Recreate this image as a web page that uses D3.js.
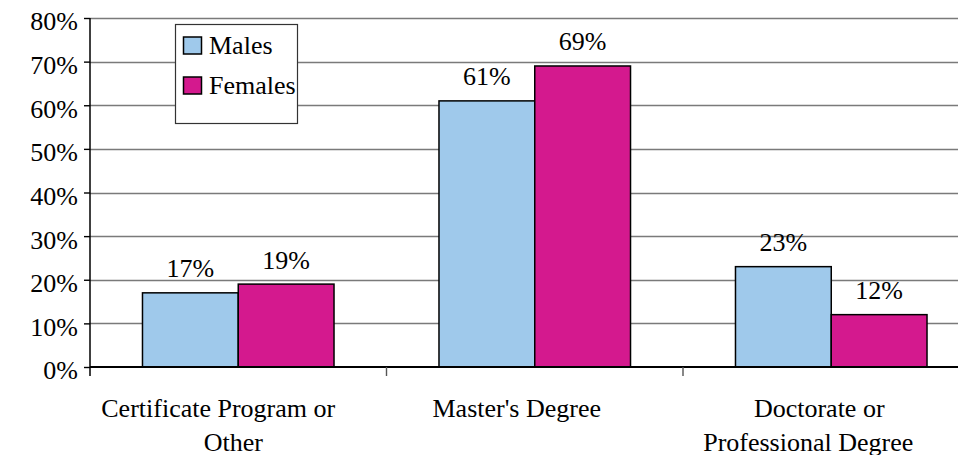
<!DOCTYPE html>
<html>
<head>
<meta charset="utf-8">
<script src="https://cdn.jsdelivr.net/npm/d3@7"></script>
</head>
<body style="margin:0">
<svg id="chart" width="958" height="455"></svg>
<script>
// Share of respondents by highest degree sought, split by gender
const categories = [
  ["Certificate Program or", "Other"],
  ["Master's Degree"],
  ["Doctorate or", "Professional Degree"]
];
const categoryKeys = ["Certificate", "Masters", "Doctorate"];
const series = ["Males", "Females"];
const males = [0.17, 0.61, 0.23];
const females = [0.19, 0.69, 0.12];
const yTicks = [0, 0.1, 0.2, 0.3, 0.4, 0.5, 0.6, 0.7, 0.8];
const colors = { Males: "#9fc9eb", Females: "#d4198e" };
// horizontal nudge of each wrapped category label line
const labelShift = [[-20, -5], [-18], [-12, -23]];

const values = { Males: males, Females: females };
const svg = d3.select("#chart");
const fontSize = "26px";

// every text element gets the serif face directly
function serifText(sel) {
  return sel.style("font-family", '"Times New Roman"')
    .style("font-size", fontSize)
    .attr("fill", "#000");
}

const x = d3.scaleBand().domain(categoryKeys).range([90, 979.5]).paddingInner(0).paddingOuter(0);
const xs = d3.scaleBand().domain(series).range([0, x.bandwidth()]).paddingInner(0).paddingOuter(0.548);
const y = d3.scaleLinear().domain([0, 0.8]).range([367, 18]);

// gridlines
svg.append("g")
  .selectAll("line")
  .data(yTicks.filter(d => d > 0))
  .join("line")
  .attr("x1", 90).attr("x2", 958)
  .attr("y1", d => Math.round(y(d)) + 0.5).attr("y2", d => Math.round(y(d)) + 0.5)
  .attr("stroke", "#7a7a7a").attr("stroke-width", 1.4);

// bars
const groups = svg.append("g")
  .selectAll("g")
  .data(categoryKeys)
  .join("g")
  .attr("transform", d => `translate(${x(d)},0)`);

groups.selectAll("rect")
  .data((d, i) => series.map(s => ({ s, v: values[s][i] })))
  .join("rect")
  .attr("x", d => xs(d.s))
  .attr("width", xs.bandwidth())
  .attr("y", d => y(d.v))
  .attr("height", d => y(0) - y(d.v))
  .attr("fill", d => colors[d.s])
  .attr("stroke", "#000").attr("stroke-width", 1.5);

groups.selectAll("text.val")
  .data((d, i) => series.map(s => ({ s, v: values[s][i] })))
  .join("text")
  .attr("class", "val")
  .attr("x", d => xs(d.s) + xs.bandwidth() / 2)
  .attr("y", d => y(d.v) - 15.5)
  .attr("text-anchor", "middle")
  .call(serifText)
  .text(d => d3.format(".0%")(d.v));

// y axis
const yAxis = svg.append("g")
  .attr("transform", "translate(90,0)")
  .call(d3.axisLeft(y).tickValues(yTicks).tickFormat(d3.format(".0%")).tickSize(6).tickPadding(6));
yAxis.attr("font-family", null).attr("font-size", null);
yAxis.select(".domain").attr("d", "M0,18V376").attr("stroke", "#000").attr("stroke-width", 1.5);
yAxis.selectAll(".tick line").attr("stroke", "#000").attr("stroke-width", 1.4);
yAxis.selectAll(".tick text")
  .attr("dy", "0.46em")
  .call(serifText);

// x axis
const xAxis = svg.append("g")
  .attr("transform", "translate(0,367)");
xAxis.append("line")
  .attr("x1", 90).attr("x2", 958).attr("y1", 0).attr("y2", 0)
  .attr("stroke", "#000").attr("stroke-width", 1.8);
xAxis.selectAll("line.tick")
  .data(categoryKeys.slice(1).concat(["end"]))
  .join("line")
  .attr("class", "tick")
  .attr("x1", (d, i) => 90 + x.step() * (i + 1))
  .attr("x2", (d, i) => 90 + x.step() * (i + 1))
  .attr("y1", 0).attr("y2", 9)
  .attr("stroke", "#555").attr("stroke-width", 1.4);

// category labels, one text per wrapped line
categoryKeys.forEach((d, i) => {
  categories[i].forEach((line, j) => {
    xAxis.append("text")
      .attr("text-anchor", "middle")
      .attr("x", x(d) + x.bandwidth() / 2 + labelShift[i][j])
      .attr("y", 49.7 + j * 34)
      .call(serifText)
      .text(line);
  });
});

// legend
const legend = svg.append("g");
legend.append("rect")
  .attr("x", 175.5).attr("y", 24.5).attr("width", 122).attr("height", 99)
  .attr("fill", "#fff").attr("stroke", "#333").attr("stroke-width", 1.2);
const items = legend.selectAll("g.item")
  .data(series)
  .join("g")
  .attr("class", "item")
  .attr("transform", (d, i) => `translate(0,${i * 40})`);
items.append("rect")
  .attr("x", 183.5).attr("y", 37).attr("width", 18).attr("height", 17)
  .attr("fill", d => colors[d]).attr("stroke", "#000").attr("stroke-width", 1.5);
items.append("text")
  .attr("x", 209).attr("y", 53.5)
  .call(serifText)
  .text(d => d);
</script>
</body>
</html>
